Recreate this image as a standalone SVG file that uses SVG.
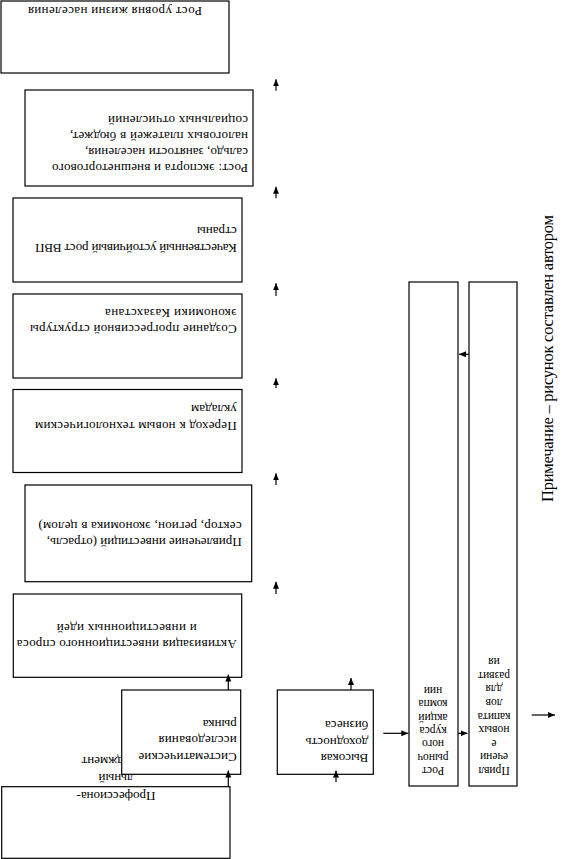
<svg xmlns="http://www.w3.org/2000/svg" width="578" height="859" viewBox="0 0 578 859">
<style>
.box{fill:#fff;stroke:#000;stroke-width:1.2}
.t{font-family:"Liberation Serif","Times New Roman",serif;font-size:13px;fill:#000}
.s{font-size:11.5px}
.m{text-anchor:middle}
.note{font-family:"Liberation Serif","Times New Roman",serif;font-size:16.5px;fill:#000}
.a{stroke:#000;stroke-width:1.2;fill:none;marker-end:url(#ah)}
</style>
<defs>
<marker id="ah" markerUnits="userSpaceOnUse" markerWidth="7" markerHeight="6" refX="7" refY="3" orient="auto">
<path d="M0,0 L7,3 L0,6 z" fill="#000"/>
</marker>
</defs>
<rect width="578" height="859" fill="#fff"/>
<g transform="rotate(180 289 429.5)">
<g id="n1">
<rect class="box" x="349" y="786" width="228" height="72"/>
<text class="t" x="376" y="852" textLength="174" lengthAdjust="spacing">Рост уровня жизни населения</text>
</g>
<g id="n2">
<rect class="box" x="325" y="673" width="228" height="96"/>
<text class="t" x="330" y="695.4" textLength="196" lengthAdjust="spacing">Рост: экспорта и внешнеторгового</text>
<text class="t" x="330" y="711" textLength="163" lengthAdjust="spacing">сальдо, занятости населения,</text>
<text class="t" x="330" y="727" textLength="178" lengthAdjust="spacing">налоговых платежей в бюджет,</text>
<text class="t" x="330" y="743" textLength="140" lengthAdjust="spacing">социальных отчислений</text>
</g>
<g id="n3">
<rect class="box" x="336" y="577" width="229" height="84"/>
<text class="t" x="341.3" y="615.4" textLength="201.7" lengthAdjust="spacing">Качественный устойчивый рост ВВП</text>
<text class="t" x="341.3" y="632">страны</text>
</g>
<g id="n4">
<rect class="box" x="336" y="481" width="229" height="84"/>
<text class="t" x="341.3" y="533.8" textLength="206.7" lengthAdjust="spacing">Создание прогрессивной структуры</text>
<text class="t" x="341.3" y="550.4" textLength="131.7" lengthAdjust="spacing">экономики Казахстана</text>
</g>
<g id="n5">
<rect class="box" x="336" y="386.5" width="229" height="83"/>
<text class="t" x="341.3" y="437.1" textLength="201.7" lengthAdjust="spacing">Переход к новым технологическим</text>
<text class="t" x="341.3" y="454.4">укладам</text>
</g>
<g id="n6">
<rect class="box" x="326.3" y="277.3" width="226.7" height="96.7"/>
<text class="t" x="336.3" y="321.1" textLength="195" lengthAdjust="spacing">Привлечение инвестиций (отрасль,</text>
<text class="t" x="336.3" y="337.1" textLength="203.3" lengthAdjust="spacing">сектор, регион, экономика в целом)</text>
</g>
<g id="n7">
<rect class="box" x="336.3" y="181.7" width="228.4" height="83.3"/>
<text class="t m" x="451.3" y="218.8" textLength="220" lengthAdjust="spacing">Активизация инвестиционного спроса</text>
<text class="t m" x="451.3" y="235.4" textLength="140" lengthAdjust="spacing">и инвестиционных идей</text>
</g>
<g id="n9">
<rect class="box" x="348" y="0.7" width="228.3" height="71.6"/>
<text class="t m" x="462" y="67.1">Профессиона-</text>
<text class="t m" x="462" y="84.8">льный</text>
<text class="t m" x="462" y="102.1">менеджмент</text>
</g>
<g id="n8">
<rect class="box" x="337.3" y="84.7" width="119" height="84.3"/>
<text class="t" x="341.3" y="106.1" textLength="98.3" lengthAdjust="spacing">Систематические</text>
<text class="t" x="341.3" y="122.8" textLength="78.3" lengthAdjust="spacing">исследования</text>
<text class="t" x="341.3" y="139.4">рынка</text>
</g>
<g id="n10">
<rect class="box" x="204.7" y="84.7" width="96" height="84.3"/>
<text class="t" x="209.7" y="105.4">Высокая</text>
<text class="t" x="209.7" y="121.4">доходность</text>
<text class="t" x="209.7" y="137.8">бизнеса</text>
</g>
<g id="n11">
<rect class="box" x="120" y="73" width="49" height="504"/>
<text class="t s m" x="145" y="92.1">Рост</text>
<text class="t s m" x="145" y="105.4">рыноч</text>
<text class="t s m" x="145" y="118.7">ного</text>
<text class="t s m" x="145" y="132">курса</text>
<text class="t s m" x="145" y="145.3">акций</text>
<text class="t s m" x="145" y="158.6">компа</text>
<text class="t s m" x="145" y="171.9">нии</text>
</g>
<g id="n12">
<rect class="box" x="61" y="73" width="48" height="504"/>
<text class="t s m" x="84" y="92.1">Привл</text>
<text class="t s m" x="84" y="105.6">ечени</text>
<text class="t s m" x="84" y="119.1">е</text>
<text class="t s m" x="84" y="132.6">новых</text>
<text class="t s m" x="84" y="146.1">капита</text>
<text class="t s m" x="84" y="159.6">лов</text>
<text class="t s m" x="84" y="173.7">для</text>
<text class="t s m" x="84" y="187.2">развит</text>
<text class="t s m" x="84" y="200.7">ия</text>
</g>
<g id="connectors">
<line class="a" x1="302" y1="768.3" x2="302" y2="779.7"/>
<line class="a" x1="302" y1="660.7" x2="302" y2="672.3"/>
<line class="a" x1="302" y1="563" x2="302" y2="575.7"/>
<line class="a" x1="302" y1="471" x2="302" y2="480.7"/>
<line class="a" x1="302" y1="374" x2="302" y2="385.7"/>
<line class="a" x1="302" y1="265" x2="302" y2="277.3"/>
<line class="a" x1="349.7" y1="169" x2="349.7" y2="184.5"/>
<line class="a" x1="349.7" y1="72.3" x2="349.7" y2="88.5"/>
<line class="a" x1="227" y1="169" x2="227" y2="181"/>
<line class="a" x1="242" y1="77" x2="242" y2="88.5"/>
<line class="a" x1="194.7" y1="125.7" x2="169.7" y2="125.7"/>
<line class="a" x1="120" y1="125.7" x2="110.5" y2="125.7"/>
<line class="a" x1="109" y1="504.7" x2="119" y2="504.7"/>
<line class="a" x1="46.3" y1="144" x2="23" y2="144"/>
</g>
<text class="note" transform="translate(25,357) rotate(90)" x="0" y="0" textLength="287" lengthAdjust="spacing">Примечание – рисунок составлен автором</text>
</g>
</svg>
